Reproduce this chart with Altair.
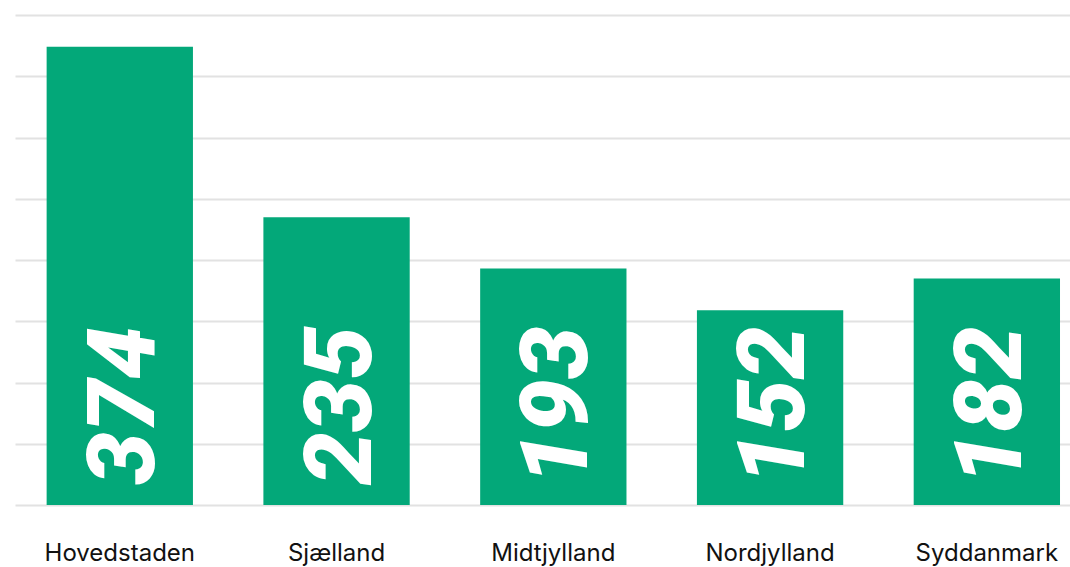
import altair as alt
import pandas as pd

regions = ["Hovedstaden", "Sjælland", "Midtjylland", "Nordjylland", "Syddanmark"]
bar_values = [374, 235, 193, 159, 185]
label_texts = ["374", "235", "193", "152", "182"]
grid_values = [0, 50, 100, 150, 200, 250, 300, 350, 400]

df = pd.DataFrame({
    "region": regions,
    "value": bar_values,
    "label": label_texts,
    "base": [0] * len(regions),
})

x_enc = alt.X(
    "region:N",
    sort=regions,
    scale=alt.Scale(paddingInner=0.325, paddingOuter=0.096, align=0.76),
    axis=alt.Axis(
        title=None, ticks=False, domain=False, labelAngle=0,
        labelFont="Inter", labelFontSize=24, labelColor="#111111",
        labelPadding=36,
    ),
)

bars = alt.Chart(df).mark_bar(color="#03a879").encode(
    x=x_enc,
    y=alt.Y(
        "value:Q",
        scale=alt.Scale(domain=[0, 400], nice=False),
        axis=alt.Axis(
            title=None, labels=False, ticks=False, domain=False,
            grid=True, values=grid_values, gridColor="#e2e2e2", gridWidth=2,
        ),
    ),
)

labels = alt.Chart(df).mark_text(
    angle=270, align="left", baseline="middle", dx=20, dy=6,
    font="Roboto", fontWeight=900, fontStyle="italic", fontSize=94,
    color="white",
).encode(
    x=alt.X("region:N", sort=regions),
    y=alt.Y("base:Q"),
    text="label:N",
)

chart = alt.layer(bars, labels).properties(
    width=1055, height=490,
    autosize=alt.AutoSizeParams(type="none"),
    padding={"left": 15, "top": 15, "right": 0, "bottom": 62},
).configure_view(stroke=None)

chart.save("out.html", embed_options={"renderer": "svg", "actions": False})
